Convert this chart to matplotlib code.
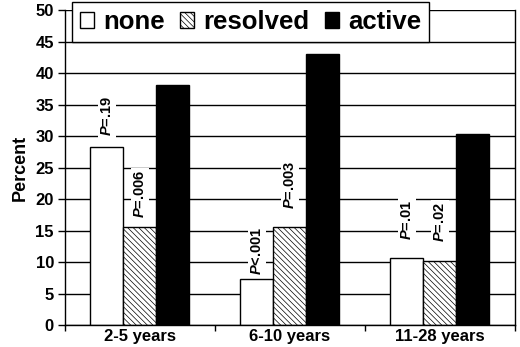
import matplotlib
matplotlib.use("Agg")
import matplotlib.pyplot as plt
import numpy as np

plt.rcParams['font.family'] = ['Liberation Sans', 'DejaVu Sans']
plt.rcParams['font.weight'] = 'bold'
plt.rcParams['mathtext.fontset'] = 'custom'
plt.rcParams['mathtext.it'] = 'Liberation Sans:bold:italic'
plt.rcParams['mathtext.rm'] = 'Liberation Sans:bold'
plt.rcParams['hatch.linewidth'] = 0.5

# data
groups = ['2-5 years', '6-10 years', '11-28 years']
none_vals = [28.2, 7.25, 10.6]
resolved_vals = [15.5, 15.5, 10.2]
active_vals = [38.1, 43.0, 30.4]

# P-value labels: (group index, bar offset index, value, operator, label centre height)
p_labels = [
    (0, -1, '.19', '=', 33.2),
    (0, 0, '.006', '=', 20.8),
    (1, -1, '.001', '<', 11.7),
    (1, 0, '.003', '=', 22.3),
    (2, -1, '.01', '=', 16.7),
    (2, 0, '.02', '=', 16.3),
]

fig = plt.figure(figsize=(5.2, 3.47), dpi=100)
ax = fig.add_axes([0.125, 0.0634, 0.865, 0.9076])

x = np.arange(len(groups))
w = 0.22
ax.set_axisbelow(True)
ax.yaxis.grid(True, color='black', linewidth=1.0)

ax.bar(x - w, none_vals, w, color='white', edgecolor='black', linewidth=1.0, label='none')
ax.bar(x, resolved_vals, w, color='white', edgecolor='black', linewidth=1.0,
       hatch='\\\\\\\\\\\\', label='resolved')
ax.bar(x + w, active_vals, w, color='black', edgecolor='black', linewidth=1.0, label='active')

for gi, off, val, op, ypos in p_labels:
    ax.text(gi + off * w, ypos, r'$\it{P}$' + op + val, rotation=90, ha='center', va='center',
            fontsize=10.5, fontweight='bold',
            bbox=dict(facecolor='white', edgecolor='none', pad=1.5), zorder=3)

ax.set_xlim(-0.5, 2.5)
ax.set_ylim(0, 50)
ax.set_yticks(np.arange(0, 51, 5))
ax.set_xticks(x)
ax.set_xticklabels(groups, fontsize=12, fontweight='bold')
ax.set_xticks([-0.5, 0.5, 1.5, 2.5], minor=True)
ax.tick_params(axis='x', which='major', length=0, pad=3)
ax.tick_params(axis='x', which='minor', length=4, width=1, direction='out')
ax.tick_params(axis='y', labelsize=12, length=5, width=1, pad=3)
for lab in ax.get_yticklabels():
    lab.set_fontweight('bold')

ax.spines['top'].set_visible(False)
for s in ['left', 'right', 'bottom']:
    ax.spines[s].set_linewidth(1.0)
    ax.spines[s].set_color('black')

ax.set_ylabel('Percent', fontsize=13, fontweight='bold', labelpad=5)

leg = ax.legend(loc='upper left', bbox_to_anchor=(0.016, 1.025), ncol=3, frameon=True,
                fancybox=False, edgecolor='black', fontsize=18.5, handlelength=0.55,
                handleheight=0.55, handletextpad=0.35, columnspacing=0.6, borderpad=0.3,
                borderaxespad=0)
leg.get_frame().set_linewidth(1.0)
leg.get_frame().set_alpha(1)
for t in leg.get_texts():
    t.set_fontweight('bold')

fig.savefig('out.png', dpi=100)
